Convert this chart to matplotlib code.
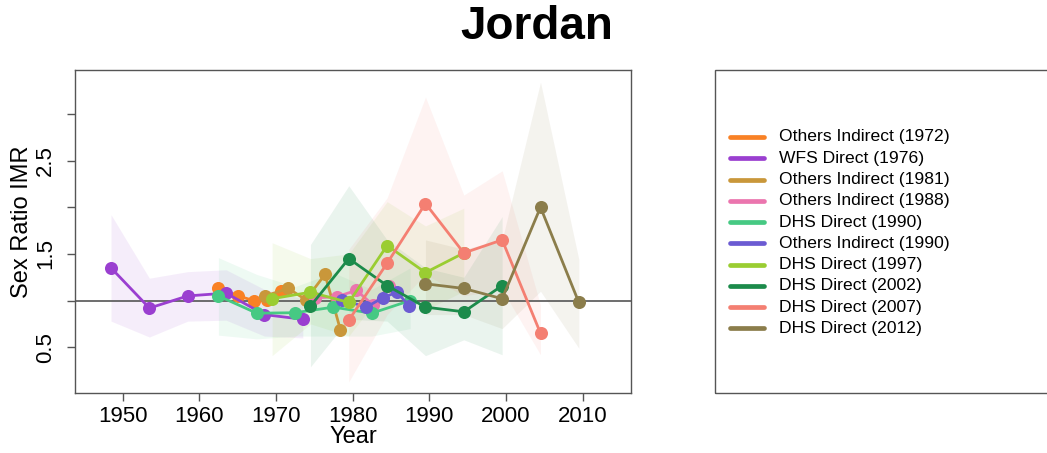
import matplotlib
matplotlib.use("Agg")
import matplotlib.pyplot as plt
from matplotlib.lines import Line2D
from matplotlib.patches import Rectangle

plt.rcParams['font.family'] = ['Liberation Sans', 'DejaVu Sans']

# ---------------- data ----------------
labels = ["Others Indirect (1972)", "WFS Direct (1976)", "Others Indirect (1981)",
          "Others Indirect (1988)", "DHS Direct (1990)", "Others Indirect (1990)",
          "DHS Direct (1997)", "DHS Direct (2002)", "DHS Direct (2007)", "DHS Direct (2012)"]
colors = ["#F98125", "#9A3FD0", "#C9973A", "#EB75AE", "#46C983", "#6B5BD2",
          "#9ACD32", "#1C8B4B", "#F47F72", "#8B7D4B"]

oi1972_x = [1962.4, 1965.1, 1967.1, 1968.9, 1970.7]
oi1972_y = [1.13, 1.05, 1.00, 1.01, 1.10]

wfs1976_x = [1948.5, 1953.5, 1958.5, 1963.5, 1968.5, 1973.5]
wfs1976_y = [1.35, 0.92, 1.05, 1.08, 0.85, 0.80]
wfs1976_lo = [0.78, 0.61, 0.78, 0.79, 0.62, 0.60]
wfs1976_hi = [1.92, 1.24, 1.31, 1.33, 1.12, 1.02]

oi1981_x = [1968.6, 1971.6, 1973.9, 1976.4, 1978.4]
oi1981_y = [1.05, 1.13, 1.01, 1.28, 0.69]

oi1988_x = [1975.1, 1977.9, 1980.5, 1982.7, 1984.8]
oi1988_y = [1.03, 1.04, 1.11, 0.95, 1.16]

dhs1990_x = [1962.5, 1967.5, 1972.5, 1977.5, 1982.5, 1987.5]
dhs1990_y = [1.05, 0.865, 0.87, 0.93, 0.865, 1.00]
dhs1990_lo = [0.63, 0.59, 0.62, 0.62, 0.62, 0.70]
dhs1990_hi = [1.46, 1.28, 1.15, 1.30, 1.12, 1.35]

oi1990_x = [1978.6, 1981.8, 1983.9, 1985.8, 1987.4]
oi1990_y = [1.01, 0.93, 1.03, 1.09, 0.94]

dhs1997_x = [1969.5, 1974.5, 1979.5, 1984.5, 1989.5, 1994.5]
dhs1997_y = [1.02, 1.09, 0.98, 1.59, 1.30, 1.51]
dhs1997_lo = [0.41, 0.75, 0.62, 1.15, 0.90, 1.10]
dhs1997_hi = [1.62, 1.45, 1.50, 2.06, 1.80, 1.99]

dhs2002_x = [1974.5, 1979.5, 1984.5, 1989.5, 1994.5, 1999.5]
dhs2002_y = [0.94, 1.45, 1.16, 0.93, 0.88, 1.16]
dhs2002_lo = [0.29, 0.80, 0.78, 0.41, 0.58, 0.42]
dhs2002_hi = [1.60, 2.23, 1.65, 1.35, 1.25, 1.90]

dhs2007_x = [1979.5, 1984.5, 1989.5, 1994.5, 1999.5, 2004.5]
dhs2007_y = [0.79, 1.40, 2.04, 1.51, 1.65, 0.65]
dhs2007_lo = [0.13, 0.85, 1.28, 1.05, 1.12, 0.42]
dhs2007_hi = [1.55, 2.10, 3.18, 2.13, 2.39, 0.95]

dhs2012_x = [1989.5, 1994.5, 1999.5, 2004.5, 2009.5]
dhs2012_y = [1.18, 1.13, 1.02, 2.00, 0.98]
dhs2012_lo = [0.85, 0.85, 0.70, 1.10, 0.49]
dhs2012_hi = [1.65, 1.55, 1.65, 3.34, 1.44]

series = [
    (oi1972_x, oi1972_y, None, None),
    (wfs1976_x, wfs1976_y, wfs1976_lo, wfs1976_hi),
    (oi1981_x, oi1981_y, None, None),
    (oi1988_x, oi1988_y, None, None),
    (dhs1990_x, dhs1990_y, dhs1990_lo, dhs1990_hi),
    (oi1990_x, oi1990_y, None, None),
    (dhs1997_x, dhs1997_y, dhs1997_lo, dhs1997_hi),
    (dhs2002_x, dhs2002_y, dhs2002_lo, dhs2002_hi),
    (dhs2007_x, dhs2007_y, dhs2007_lo, dhs2007_hi),
    (dhs2012_x, dhs2012_y, dhs2012_lo, dhs2012_hi),
]

x_ticks = [1950, 1960, 1970, 1980, 1990, 2000, 2010]
y_ticks = [0.5, 1.0, 1.5, 2.0, 2.5, 3.0]
y_ticklabels = ["0.5", "", "1.5", "", "2.5", ""]

# ---------------- figure ----------------
W, H = 1047, 453
fig = plt.figure(figsize=(W / 100, H / 100), dpi=100)
axc = "#555555"

ax = fig.add_axes([75 / W, 1 - 393.3 / H, (631 - 75) / W, (393.3 - 70) / H])
ax.set_xlim(1943.8, 2016.3)
ax.set_ylim(0.007, 3.47)

for (xs, ys, lo, hi), c in zip(series, colors):
    if lo is not None:
        ax.fill_between(xs, lo, hi, color=c, alpha=0.09, linewidth=0, zorder=1)

ax.axhline(1.0, color=axc, lw=1.2, zorder=2)

for (xs, ys, lo, hi), c in zip(series, colors):
    ax.plot(xs, ys, color=c, lw=2.0, marker='o', markersize=9.4,
            markeredgewidth=0, zorder=3)

for s in ax.spines.values():
    s.set_color(axc)
    s.set_linewidth(1.0)

ax.set_xticks(x_ticks)
ax.set_xticklabels([str(t) for t in x_ticks], fontsize=16)
ax.set_yticks(y_ticks)
ax.set_yticklabels(y_ticklabels, fontsize=16, rotation=90, va='center')
ax.tick_params(axis='both', direction='out', length=5.8, width=1.0, color=axc)
ax.tick_params(axis='x', pad=3)
ax.tick_params(axis='y', pad=8)

fig.text(353 / W, 1 - 437 / H, "Year", fontsize=17, ha='center', va='center')
fig.text(22 / W, 1 - 222 / H, "Sex Ratio IMR", fontsize=17, rotation=90,
         ha='center', va='center')
fig.text(536.7 / W, 1 - 27 / H, "Jordan", fontsize=33, fontweight='bold',
         ha='center', va='center')

# legend box and entries
fig.add_artist(Rectangle((715 / W, 1 - 393.3 / H), 0.5, (393.3 - 70) / H,
                         transform=fig.transFigure, fill=False,
                         edgecolor=axc, lw=1.0))
for i, (lab, c) in enumerate(zip(labels, colors)):
    yy = 1 - (137.0 + 21.26 * i) / H
    fig.add_artist(Line2D([730 / W, 764 / W], [yy, yy], transform=fig.transFigure,
                          color=c, lw=3.4, solid_capstyle='round'))
    fig.text(779 / W, yy, lab, fontsize=12.6, ha='left', va='center')

fig.savefig("out.png", dpi=100)
